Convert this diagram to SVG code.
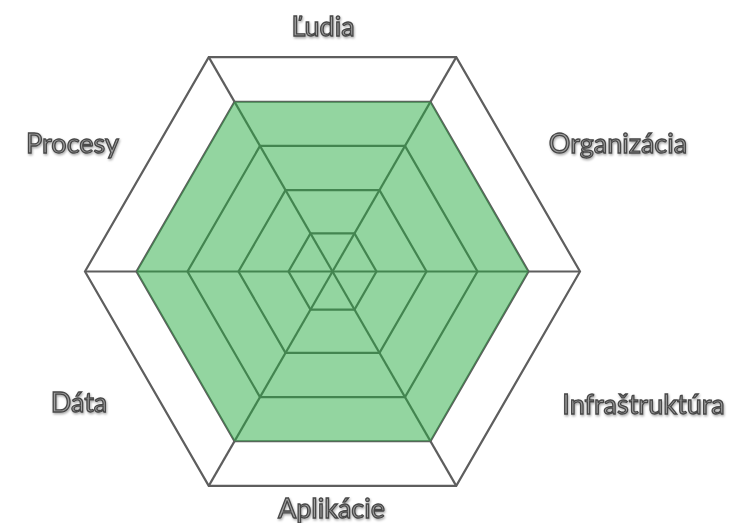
<svg xmlns="http://www.w3.org/2000/svg" width="736" height="523" viewBox="0 0 736 523">
  <defs>
    <filter id="sh" x="-10%" y="-20%" width="120%" height="150%">
      <feDropShadow dx="0.8" dy="1.5" stdDeviation="1" flood-color="#000" flood-opacity="0.35"/>
    </filter>
    <style>
      .grid { fill: none; stroke: #5e5e5e; stroke-width: 2.2; stroke-linejoin: miter; }
      .fillarea { fill: #27ab41; fill-opacity: 0.5; stroke: none; }
      .lbl { font-family: "Lato", "Open Sans", "Liberation Sans", sans-serif; font-size: 27px; fill: #a0a0a0; stroke: #474747; stroke-width: 1.3px; filter: url(#sh); text-anchor: middle; }
    </style>
  </defs>
  <rect width="736" height="523" fill="#ffffff"/>
  <g id="grid">
    <polygon class="grid" points="580,271.5 456.25,485.84 208.75,485.84 85,271.5 208.75,57.16 456.25,57.16"/>
    <polygon class="grid" points="528.5,271.5 430.5,441.24 234.5,441.24 136.5,271.5 234.5,101.76 430.5,101.76"/>
    <polygon class="grid" points="477.5,271.5 405,397.07 260,397.07 187.5,271.5 260,145.93 405,145.93"/>
    <polygon class="grid" points="426.5,271.5 379.5,352.91 285.5,352.91 238.5,271.5 285.5,190.09 379.5,190.09"/>
    <polygon class="grid" points="376.5,271.5 354.5,309.6 310.5,309.6 288.5,271.5 310.5,233.4 354.5,233.4"/>
  </g>
  <g id="connectors">
    <line class="grid" x1="332.5" y1="271.5" x2="580" y2="271.5"/>
    <line class="grid" x1="332.5" y1="271.5" x2="85" y2="271.5"/>
    <line class="grid" x1="332.5" y1="271.5" x2="456.25" y2="485.84"/>
    <line class="grid" x1="332.5" y1="271.5" x2="208.75" y2="485.84"/>
    <line class="grid" x1="332.5" y1="271.5" x2="208.75" y2="57.16"/>
    <line class="grid" x1="332.5" y1="271.5" x2="456.25" y2="57.16"/>
  </g>
  <g id="data-area">
    <polygon class="fillarea" points="528.5,271.5 430.5,441.24 234.5,441.24 136.5,271.5 234.5,101.76 430.5,101.76"/>
  </g>
  <g id="label-ludia"><text class="lbl" x="323" y="36">Ľudia</text></g>
  <g id="label-organizacia"><text class="lbl" x="618" y="153">Organizácia</text></g>
  <g id="label-infrastruktura"><text class="lbl" x="643.5" y="414">Infraštruktúra</text></g>
  <g id="label-aplikacie"><text class="lbl" x="331.5" y="518">Aplikácie</text></g>
  <g id="label-data"><text class="lbl" x="79" y="412">Dáta</text></g>
  <g id="label-procesy"><text class="lbl" x="72.5" y="153">Procesy</text></g>
</svg>
